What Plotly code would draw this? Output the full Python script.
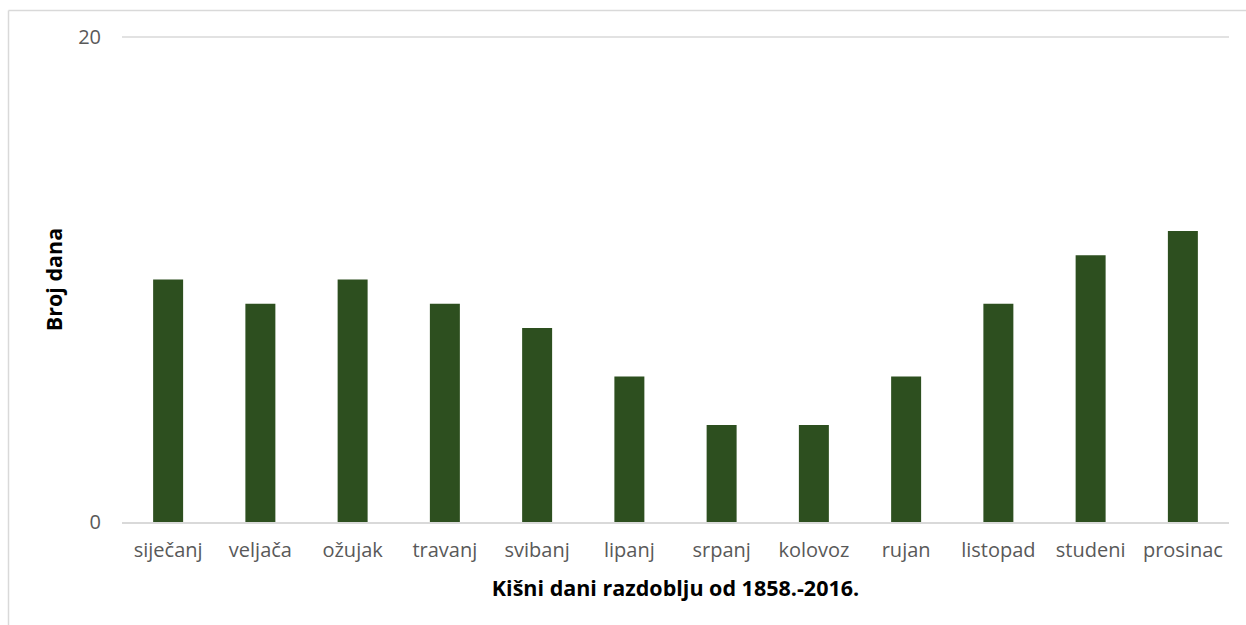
import plotly.graph_objects as go

# Mjesečni broj kišnih dana
mjeseci = ["siječanj", "veljača", "ožujak", "travanj", "svibanj", "lipanj",
           "srpanj", "kolovoz", "rujan", "listopad", "studeni", "prosinac"]
broj_dana = [10, 9, 10, 9, 8, 6, 4, 4, 6, 9, 11, 12]
y_ticks = [0, 20]

W, H = 1246, 625
L, R, T, B = 122, 17, 37, 103
pw, ph = W - L - R, H - T - B

fig = go.Figure(go.Bar(
    x=mjeseci, y=broj_dana,
    marker=dict(color="#2D4F1F", line=dict(width=0)),
    width=0.325,
))

font_txt = "'Open Sans', sans-serif"
grid_col = "#D9D9D9"

fig.update_layout(
    width=W, height=H,
    margin=dict(l=L, r=R, t=T, b=B),
    paper_bgcolor="white", plot_bgcolor="white",
    showlegend=False,
    font=dict(family=font_txt, size=20, color="#595959"),
    xaxis=dict(
        showgrid=False, showline=True, linecolor=grid_col, linewidth=1.5,
        ticks="", tickfont=dict(size=20, color="#595959"),
        ticklabelstandoff=9,
        title=dict(text="<b>Kišni dani razdoblju od 1858.-2016.</b>",
                   font=dict(size=21.5, color="#000000"), standoff=19),
    ),
    yaxis=dict(
        range=[y_ticks[0], y_ticks[-1]], tickvals=y_ticks, showgrid=True,
        gridcolor=grid_col, gridwidth=1.2, zeroline=False, showline=False,
        ticks="", tickfont=dict(size=20, color="#595959"), ticklabelstandoff=20,
        title=dict(text="<b>Broj dana</b>", font=dict(size=21.5, color="#000000"),
                   standoff=9),
    ),
    shapes=[
        # gornja linija mreže (vrh osi y)
        dict(type="line", xref="paper", yref="paper", layer="below",
             x0=0, x1=1, y0=1, y1=1,
             line=dict(color=grid_col, width=1.5)),
        # okvir grafikona (gornji i lijevi rub)
        dict(type="line", xref="paper", yref="paper",
             x0=(8.5 - L) / pw, x1=(W - L) / pw,
             y0=(H - B - 10.5) / ph, y1=(H - B - 10.5) / ph,
             line=dict(color=grid_col, width=1.5)),
        dict(type="line", xref="paper", yref="paper",
             x0=(8.5 - L) / pw, x1=(8.5 - L) / pw,
             y0=(H - B - 10.5) / ph, y1=(H - B - H) / ph,
             line=dict(color=grid_col, width=1.5)),
    ],
)

fig.write_html("out.html")
